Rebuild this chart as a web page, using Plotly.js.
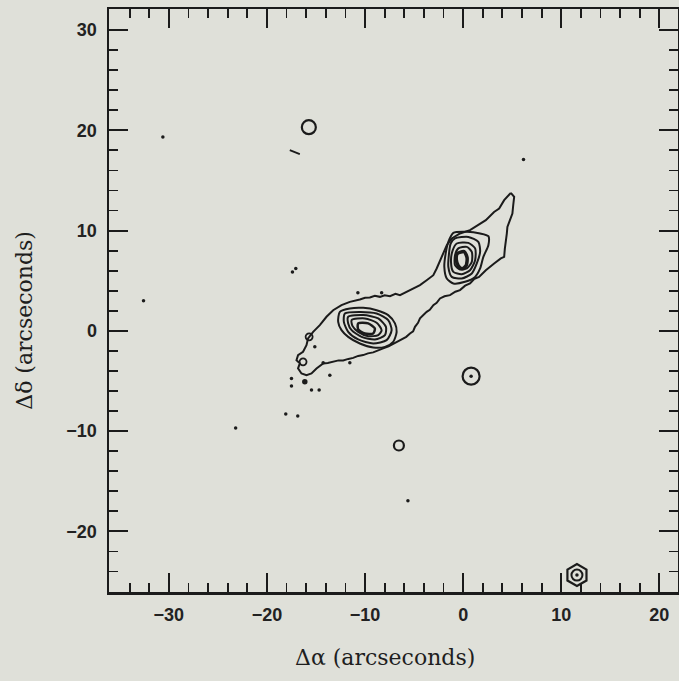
<!DOCTYPE html>
<html>
<head>
<meta charset="utf-8">
<script src="https://cdn.plot.ly/plotly-3.0.1.min.js"></script>
<style>
  html, body { margin: 0; padding: 0; background: #dfe0d9; }
  #chart { width: 679px; height: 681px; }
</style>
</head>
<body>
<div id="chart"></div>
<script>
// ---- Data (arcseconds) ----
// Outer (lowest) contour enclosing both nuclei and the bridge
const envX = [4.86,5.20,5.10,5.02,4.75,4.51,4.45,4.35,4.25,4.18,3.84,3.16,2.31,1.62,1.10,0.70,0.20,-0.32,-0.80,-1.34,-1.90,-2.36,-2.70,-3.04,-3.40,-3.72,-4.10,-4.40,-4.60,-4.91,-5.10,-5.42,-5.80,-6.11,-6.60,-7.13,-7.60,-8.15,-8.70,-9.17,-9.70,-10.19,-10.70,-11.21,-11.70,-12.23,-12.70,-13.25,-13.80,-14.27,-14.60,-14.95,-15.46,-15.97,-16.48,-16.83,-16.65,-16.99,-16.83,-16.32,-15.97,-15.81,-15.29,-14.61,-13.93,-13.25,-12.40,-11.55,-10.53,-10.00,-9.51,-9.00,-8.48,-8.00,-7.46,-6.90,-6.44,-5.76,-5.08,-4.40,-3.72,-3.04,-2.70,-2.36,-2.02,-1.67,-1.16,-0.32,0.70,1.62,2.31,3.15,3.67,4.18,4.86];
const envY = [13.76,13.36,12.50,11.70,11.00,10.37,9.70,9.04,8.20,7.38,7.22,6.72,6.05,5.38,5.15,4.73,4.50,4.06,3.90,3.56,3.45,3.23,2.80,2.56,2.10,1.89,1.50,1.24,0.80,0.40,-0.05,-0.26,-0.60,-0.76,-1.05,-1.26,-1.55,-1.75,-1.95,-2.15,-2.25,-2.42,-2.50,-2.70,-2.80,-2.95,-2.95,-3.10,-3.20,-3.25,-3.50,-3.75,-4.25,-4.42,-4.25,-3.75,-3.25,-2.92,-2.42,-2.09,-1.43,-0.76,-0.10,0.57,1.40,2.06,2.56,2.89,3.13,3.30,3.33,3.50,3.39,3.55,3.46,3.70,3.56,3.89,4.23,4.56,5.05,5.55,6.22,7.05,7.88,8.54,9.21,9.71,10.04,10.59,11.04,11.86,12.20,13.03,13.76];

// Western (lower) nucleus contours, outer to inner
const west1X = [-12.57,-11.55,-10.19,-8.82,-7.64,-6.95,-6.78,-7.13,-7.97,-9.17,-10.53,-11.72,-12.40,-12.74,-12.57];
const west1Y = [1.89,2.23,2.29,2.06,1.57,0.74,-0.10,-1.10,-1.60,-1.66,-1.26,-0.60,0.07,0.90,1.89];
const west2X = [-12.06,-10.53,-8.82,-7.64,-7.29,-7.80,-9.17,-10.70,-11.72,-12.16,-12.06];
const west2Y = [1.73,1.89,1.73,1.07,0.07,-0.93,-1.26,-0.86,-0.10,0.90,1.73];
const west3X = [-11.72,-10.19,-8.66,-7.87,-7.97,-8.99,-10.35,-11.37,-11.72,-11.72];
const west3Y = [1.40,1.57,1.24,0.40,-0.43,-0.86,-0.60,0.07,0.74,1.40];
const west4X = [-11.37,-10.02,-8.82,-8.31,-8.66,-9.68,-10.70,-11.27,-11.37];
const west4Y = [1.07,1.24,0.80,0.07,-0.43,-0.53,-0.10,0.47,1.07];
const west5X = [-10.70,-9.68,-9.00,-9.17,-10.02,-10.70,-10.70];
const west5Y = [0.74,0.74,0.24,-0.26,-0.26,0.14,0.74];

// Eastern (upper) nucleus contours, outer to inner
const east1X = [-1.00,0.37,1.73,2.57,2.57,2.06,1.73,1.22,0.19,-1.00,-1.67,-1.92,-1.78,-1.51,-1.00];
const east1Y = [9.77,9.87,9.71,9.44,8.54,7.38,6.22,5.38,4.89,4.73,5.22,6.38,7.72,8.87,9.77];
const east2X = [-0.83,0.53,1.55,1.73,1.39,0.88,-0.14,-1.16,-1.51,-1.44,-1.27,-0.83];
const east2Y = [9.21,9.37,8.87,7.88,6.72,5.72,5.22,5.38,6.38,7.72,8.71,9.21];
const east3X = [-0.65,0.53,1.22,1.22,0.70,-0.14,-1.00,-1.24,-1.06,-0.65];
const east3Y = [8.71,8.77,8.22,7.05,6.05,5.65,5.88,6.88,8.05,8.71];
const east4X = [-0.49,0.37,0.88,0.88,0.37,-0.32,-0.83,-0.83,-0.49];
const east4Y = [8.22,8.37,7.88,6.88,6.22,6.12,6.55,7.55,8.22];
const east5X = [-0.60,0.10,0.40,0.30,-0.10,-0.50,-0.70,-0.60];
const east5Y = [7.70,7.90,7.30,6.50,6.20,6.50,7.10,7.70];

// Isolated compact sources (closed contours around them)
const ringNorthX = [-15.73];
const ringNorthY = [20.31];
const ringBigX = [0.81];
const ringBigY = [-4.52];
const ringMidX = [-6.55];
const ringMidY = [-11.44];
const ringTinyX = [-15.70, -16.32];
const ringTinyY = [-0.60, -3.09];
const doubleRingX = [11.60];
const doubleRingY = [-24.36];

// Point-like peaks and specks
const dotX = [-30.61, 6.15, -32.58, -17.40, -17.06, -10.73, -8.31, -15.12, -14.27, -13.59, -11.55, -17.50, -17.50, -15.46, -14.68, -18.08, -16.86, -23.19, -5.63, 0.81, 11.60];
const dotY = [19.34, 17.09, 2.99, 5.88, 6.22, 3.79, 3.79, -1.60, -3.19, -4.42, -3.19, -4.75, -5.51, -5.91, -5.91, -8.30, -8.50, -9.70, -16.95, -4.52, -24.36];
const blobX = [-16.14];
const blobY = [-5.08];
const dashX = [-17.67, -16.65];
const dashY = [18.02, 17.62];

// Axis ticks
const xTickVals = [-30, -20, -10, 0, 10, 20];
const yTickVals = [-20, -10, 0, 10, 20, 30];

// ---- Traces ----
const ink = '#1b1b1b';
function contour(x, y, w) {
  return { type: 'scatter', mode: 'lines', x: x, y: y,
           line: { color: ink, width: w || 2, shape: 'spline', smoothing: 0.7 },
           hoverinfo: 'skip', showlegend: false };
}
function ring(x, y, size, symbol, w) {
  return { type: 'scatter', mode: 'markers', x: x, y: y,
           marker: { symbol: symbol || 'circle-open', size: size, color: ink, opacity: 1,
                     line: { width: w || 2.2, color: ink } },
           hoverinfo: 'skip', showlegend: false };
}
const traces = [
  { type: 'scatter', mode: 'lines', x: envX, y: envY,
    line: { color: ink, width: 2 }, hoverinfo: 'skip', showlegend: false },
  contour(west1X, west1Y), contour(west2X, west2Y), contour(west3X, west3Y),
  contour(west4X, west4Y), contour(west5X, west5Y, 2.5),
  contour(east1X, east1Y), contour(east2X, east2Y), contour(east3X, east3Y),
  contour(east4X, east4Y), contour(east5X, east5Y, 3.5),
  ring(ringNorthX, ringNorthY, 14),
  ring(ringBigX, ringBigY, 17),
  ring(ringMidX, ringMidY, 10, 'circle-open', 2.2),
  ring(ringTinyX, ringTinyY, 7, 'circle-open', 1.8),
  ring(doubleRingX, doubleRingY, 22, 'hexagon-open'),
  ring(doubleRingX, doubleRingY, 11, 'circle-open', 2),
  { type: 'scatter', mode: 'markers', x: dotX, y: dotY,
    marker: { symbol: 'circle', size: 3.5, color: ink, opacity: 1 },
    hoverinfo: 'skip', showlegend: false },
  { type: 'scatter', mode: 'markers', x: blobX, y: blobY,
    marker: { symbol: 'circle', size: 5.5, color: ink, opacity: 1 },
    hoverinfo: 'skip', showlegend: false },
  { type: 'scatter', mode: 'lines', x: dashX, y: dashY,
    line: { color: ink, width: 1.8 }, hoverinfo: 'skip', showlegend: false }
];

const tickFont = { family: 'Liberation Sans, Arial, sans-serif', size: 18, weight: 'bold', color: '#222222' };
const axisCommon = {
  showgrid: false, zeroline: false, showline: true, linecolor: ink, linewidth: 2.5,
  mirror: 'ticks', ticks: 'inside', ticklen: 19, tickwidth: 2, tickcolor: ink,
  tickfont: tickFont, tickmode: 'array',
  minor: { dtick: 2, tick0: 0, ticks: 'inside', ticklen: 9, tickwidth: 1.8, tickcolor: ink, showgrid: false }
};

const layout = {
  width: 679, height: 681,
  margin: { l: 109, r: 1, t: 9, b: 89 },
  paper_bgcolor: '#dfe0d9', plot_bgcolor: '#dfe0d9',
  showlegend: false,
  xaxis: Object.assign({}, axisCommon, {
    range: [-36.1, 21.9], tickvals: xTickVals,
    ticktext: xTickVals.map(v => v < 0 ? '\u2212' + Math.abs(v) : String(v)),
    ticklabelstandoff: 5
  }),
  yaxis: Object.assign({}, axisCommon, {
    range: [-26.05, 32.1], tickvals: yTickVals,
    ticktext: yTickVals.map(v => v < 0 ? '\u2212' + Math.abs(v) : String(v)),
    ticklabelstandoff: 6
  }),
  annotations: [
    { text: '\u0394\u03b1 (arcseconds)', xref: 'paper', yref: 'paper', x: 0.485, y: -0.113,
      xanchor: 'center', yanchor: 'middle', showarrow: false,
      font: { family: 'DejaVu Serif', size: 22, color: '#1e1e1e' } },
    { text: '\u0394\u03b4 (arcseconds)', xref: 'paper', yref: 'paper', x: -0.148, y: 0.4666,
      xanchor: 'center', yanchor: 'middle', showarrow: false, textangle: -90,
      font: { family: 'DejaVu Serif', size: 22, color: '#1e1e1e' } }
  ]
};

Plotly.newPlot('chart', traces, layout, { staticPlot: true, displayModeBar: false });
</script>
</body>
</html>
